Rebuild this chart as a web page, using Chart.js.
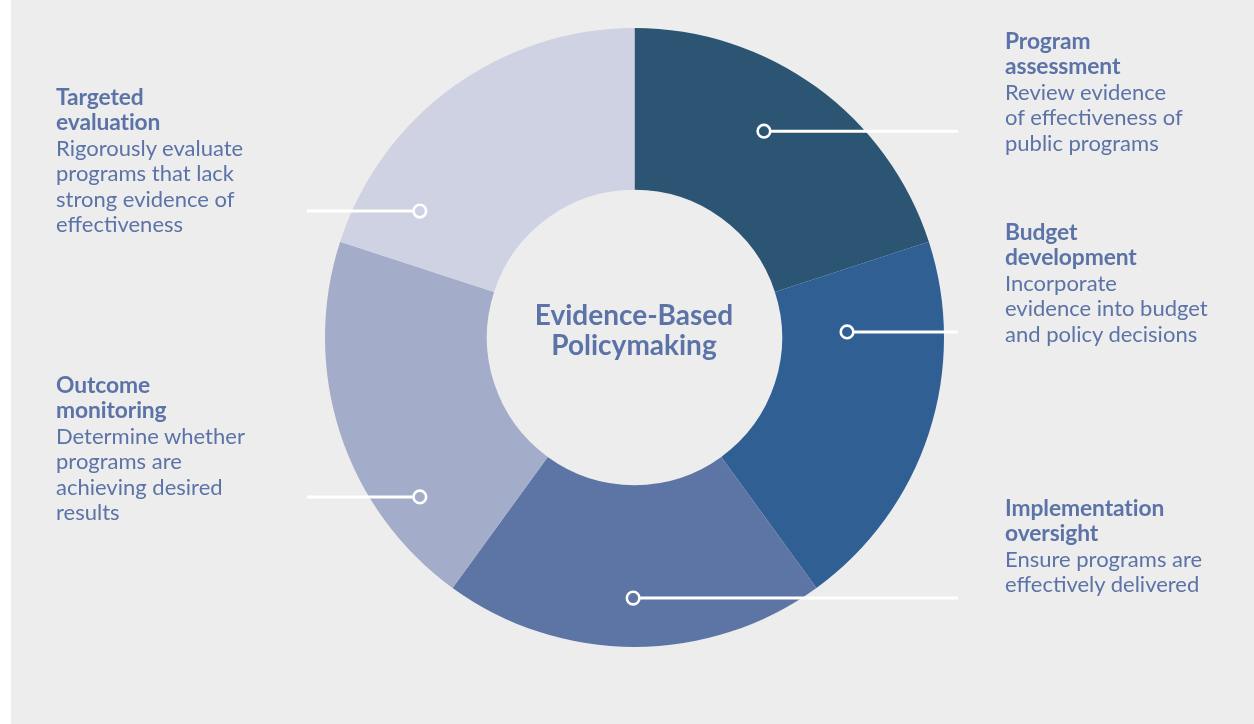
<!DOCTYPE html>
<html>
<head>
<meta charset="utf-8">
<script src="https://cdn.jsdelivr.net/npm/chart.js@4"></script>
<style>
    html, body { margin: 0; padding: 0; }
    body { width: 1254px; height: 724px; background: #ffffff; position: relative; overflow: hidden; font-family: Lato, "Open Sans", sans-serif; }
    #panel { position: absolute; left: 11px; top: 0; width: 1243px; height: 724px; background: #ededed; }
    #wrap { position: absolute; left: 0; top: 0; width: 1254px; height: 724px; }
    .label { position: absolute; color: #5b73a7; font-size: 22px; line-height: 25.5px; white-space: nowrap; }
    .label b { display: block; font-weight: 700; font-size: 22.8px; letter-spacing: -0.1px; }
    #center { position: absolute; left: 484px; width: 300px; top: 300px; text-align: center; color: #5b73a7; font-weight: 700; font-size: 28px; line-height: 29.5px; }
</style>
</head>
<body>
<div id="panel"></div>
<div id="wrap"><canvas id="wheel"></canvas></div>
<div id="center"></div>
<script>
// Cycle stages, clockwise from the top
const stages = ['Program assessment', 'Budget development', 'Implementation oversight', 'Outcome monitoring', 'Targeted evaluation'];
const stageTitles = [
    ['Program', 'assessment'],
    ['Budget', 'development'],
    ['Implementation', 'oversight'],
    ['Outcome', 'monitoring'],
    ['Targeted', 'evaluation']
];
const stageNotes = [
    ['Review evidence', 'of effectiveness of', 'public programs'],
    ['Incorporate', 'evidence into budget', 'and policy decisions'],
    ['Ensure programs are', 'effectively delivered'],
    ['Determine whether', 'programs are', 'achieving desired', 'results'],
    ['Rigorously evaluate', 'programs that lack', 'strong evidence of', 'effectiveness']
];
const stageShares = [1, 1, 1, 1, 1];
const centerTitle = ['Evidence-Based', 'Policymaking'];

const sliceColors = ['#2c5574', '#2f5f93', '#5d75a5', '#a3acc9', '#ced2e3'];

// Where each label block sits and where its leader dot goes (angle from top, share of outer radius)
const labelBoxes = [
    { left: 1005, top: 27.5 },
    { left: 1005, top: 218.5 },
    { left: 1005, top: 494.5 },
    { left: 56, top: 371.5 },
    { left: 56, top: 83.5 }
];
const leaderDots = [
    { angle: 32.1, r: 0.787, side: 1 },
    { angle: 88.5, r: 0.687, side: 1 },
    { angle: 180.3, r: 0.842, side: 1 },
    { angle: 233.4, r: 0.864, side: -1 },
    { angle: 300.5, r: 0.805, side: -1 }
];

// Labels as real text
stages.forEach((name, i) => {
    const div = document.createElement('div');
    div.className = 'label';
    div.style.left = labelBoxes[i].left + 'px';
    div.style.top = labelBoxes[i].top + 'px';
    div.innerHTML = '<b>' + stageTitles[i].join('<br>') + '</b>' + stageNotes[i].join('<br>');
    document.body.appendChild(div);
});
document.getElementById('center').innerHTML = centerTitle.join('<br>');

// Leader lines with ring markers
const leaderPlugin = {
    id: 'leaders',
    afterDatasetsDraw(chart) {
        const arc = chart.getDatasetMeta(0).data[0];
        if (!arc) return;
        const cx = arc.x, cy = arc.y, R = arc.outerRadius;
        const ctx = chart.ctx;
        ctx.save();
        ctx.strokeStyle = '#ffffff';
        leaderDots.forEach((d, i) => {
            const a = d.angle * Math.PI / 180;
            const x = cx + Math.sin(a) * R * d.r;
            const y = cy - Math.cos(a) * R * d.r;
            const endX = d.side > 0 ? cx + R * 1.045 : cx - R * 1.058;
            ctx.lineWidth = 3;
            ctx.beginPath();
            ctx.moveTo(x + d.side * 7, y);
            ctx.lineTo(endX, y);
            ctx.stroke();
            ctx.lineWidth = 2.6;
            ctx.beginPath();
            ctx.arc(x, y, 6.3, 0, Math.PI * 2);
            ctx.stroke();
        });
        ctx.restore();
    }
};

new Chart(document.getElementById('wheel'), {
    type: 'doughnut',
    data: {
        labels: stages,
        datasets: [{
            data: stageShares,
            backgroundColor: sliceColors,
            borderWidth: 0,
            hoverOffset: 0
        }]
    },
    options: {
        responsive: true,
        maintainAspectRatio: false,
        animation: false,
        cutout: '47.7%',
        rotation: 0,
        layout: { padding: { left: 325, right: 310, top: 28, bottom: 77 } },
        plugins: {
            legend: { display: false },
            tooltip: { enabled: false }
        }
    },
    plugins: [leaderPlugin]
});
</script>
</body>
</html>
